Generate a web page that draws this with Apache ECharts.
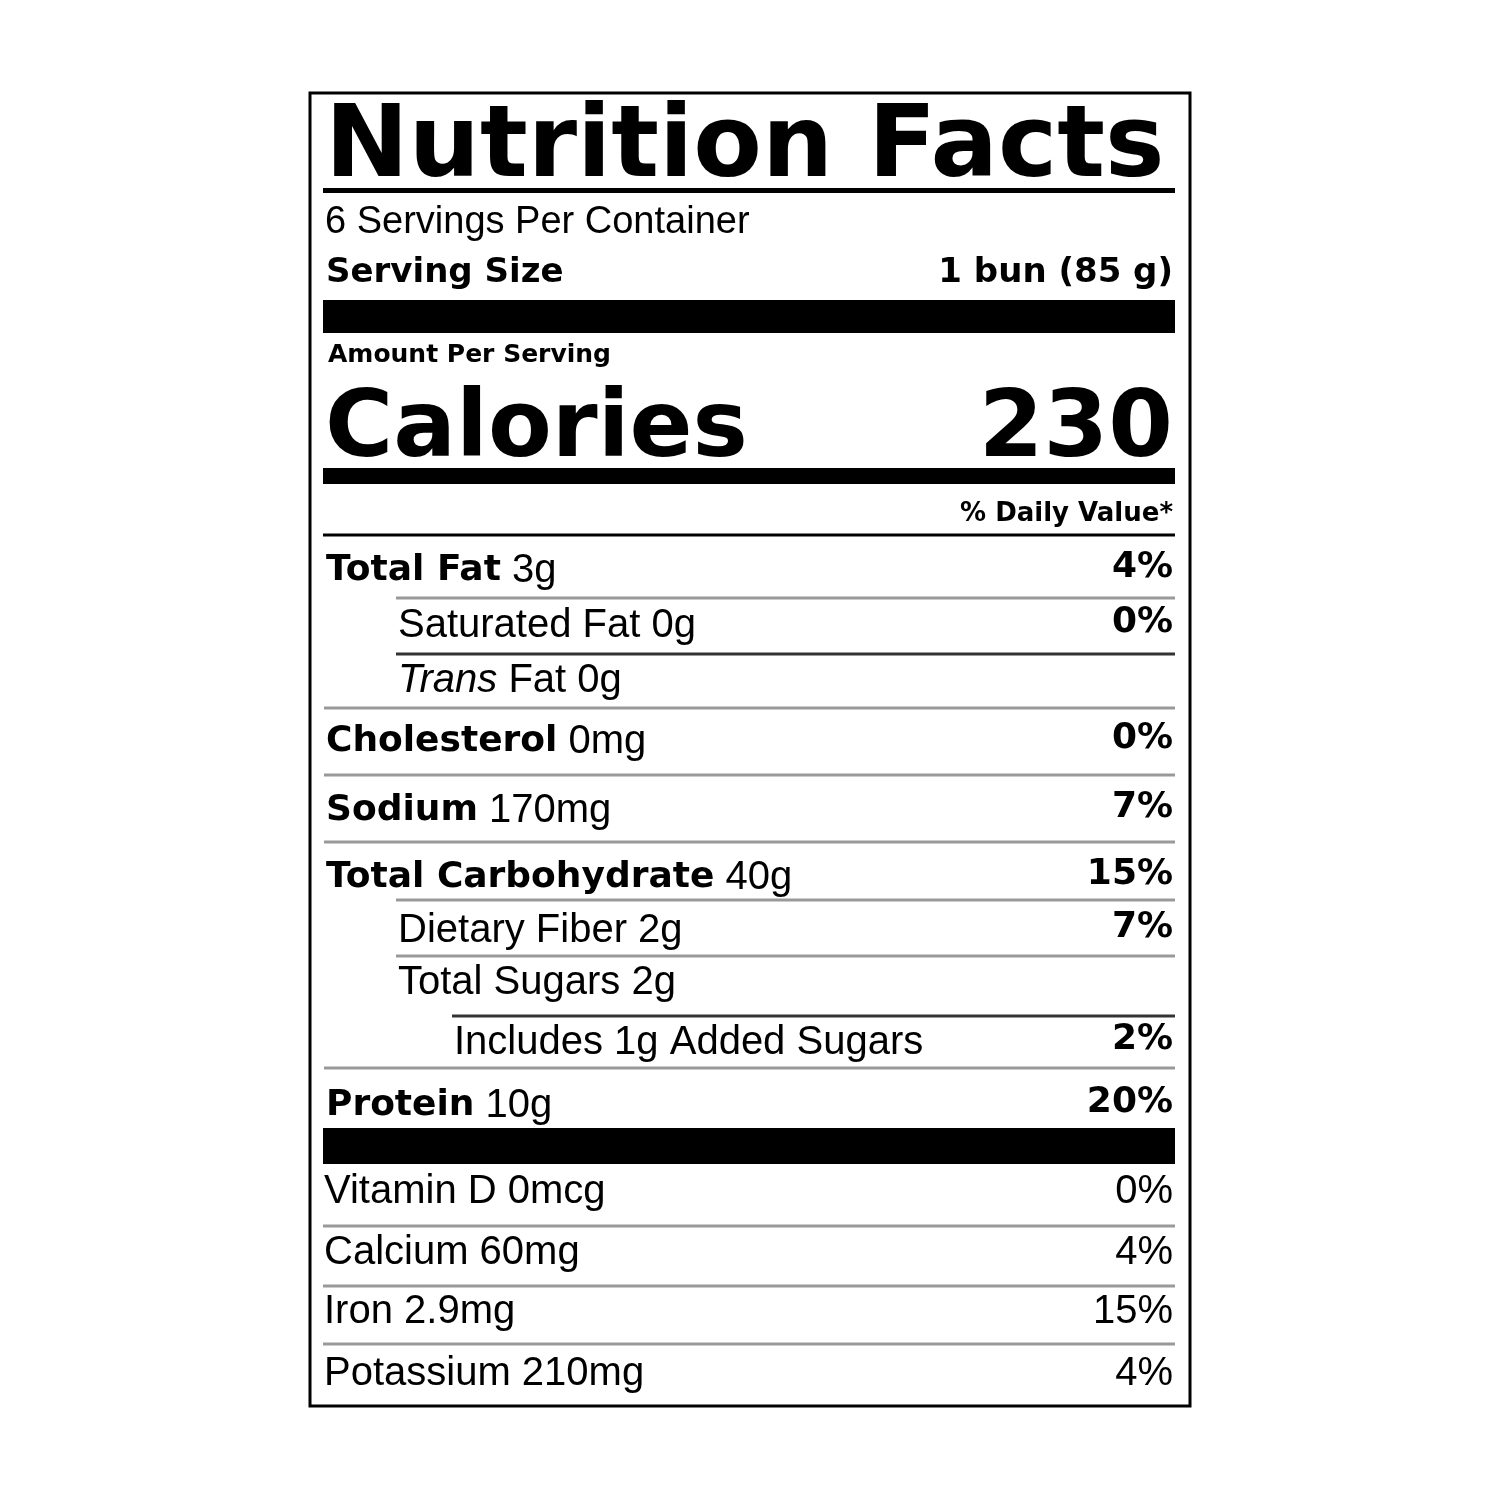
<!DOCTYPE html>
<html><head><meta charset="utf-8">
<script src="https://cdn.jsdelivr.net/npm/echarts@6/dist/echarts.min.js"></script>
<style>html,body{margin:0;background:#fff}#c{width:1500px;height:1500px}</style>
</head><body><div id="c"></div>
<script>
const title = "Nutrition Facts";
const servingsText = "6 Servings Per Container";
const servingLabel = "Serving Size";
const servingValue = "1 bun (85 g)";
const amountText = "Amount Per Serving";
const caloriesLabel = "Calories";
const caloriesValue = "230";
const dvHeader = "% Daily Value*";
// nutrient rows: bold name, amount, %DV, indent level
const nutrientNames = ["Total Fat","Saturated Fat","Trans Fat","Cholesterol","Sodium","Total Carbohydrate","Dietary Fiber","Total Sugars","Includes 1g Added Sugars","Protein"];
const nutrientAmounts = ["3g","0g","0g","0mg","170mg","40g","2g","2g","",""+"10g"];
const nutrientDV = ["4%","0%","","0%","7%","15%","7%","","2%","20%"];
const nutrientLevel = [0,1,1,0,0,0,1,1,2,0];
const vitaminNames = ["Vitamin D","Calcium","Iron","Potassium"];
const vitaminAmounts = ["0mcg","60mg","2.9mg","210mg"];
const vitaminDV = ["0%","4%","15%","4%"];

// layout
const L = 323, R = 1175;
const indentX = [L+3, 398, 454];
const nutBase = [582,637,692,753,822,889,942,994,1054,1117];
const nutLineAfter = [[598,1,'#999'],[654,1,'#333'],[708,0,'#999'],[775,0,'#999'],[842,0,'#999'],[900,1,'#999'],[956,1,'#999'],[1016,2,'#333'],[1068,0,'#999'],null];
const vitBase = [1203,1264,1323,1385];
const vitLine = [1226,1286,1344,null];

const REG = '"Liberation Sans", Arial, sans-serif';
const BOLD = '"DejaVu Sans", sans-serif';
const g = [];
g.push({type:'rect',shape:{x:310,y:93,width:880,height:1313},style:{fill:'#fff',stroke:'#000',lineWidth:3}});
function bar(y,h,x1){g.push({type:'rect',shape:{x:x1===undefined?L:x1,y:y,width:R-(x1===undefined?L:x1),height:h},style:{fill:'#000'}});}
function line(y,x1,color){g.push({type:'rect',shape:{x:x1,y:y-1.5,width:R-x1,height:3},style:{fill:color}});}
function txt(x,base,text,font,size,weight,align,rich){
  g.push({type:'text',x:x,y:base,style:{text:text,fontFamily:font,fontSize:size,fontWeight:weight,fill:'#000',align:align||'left',verticalAlign:'bottom',rich:rich}});
}
// text positioned with bottom; add descent offset
function T(x,base,text,font,size,weight,align,rich){txt(x,base+size*0.22,text,font,size,weight,align,rich);}

T(L+2,178,title,BOLD,100,'bold');
bar(188,5);
T(L+2,233,servingsText,REG,38,'normal');
T(L+3,283,servingLabel,BOLD,34,'bold');
T(R-2,283,servingValue,BOLD,34,'bold','right');
bar(300,33);
T(L+5,362,amountText,BOLD,25,'bold');
T(L+2,458,caloriesLabel,BOLD,93,'bold');
T(R-2,458,caloriesValue,BOLD,93,'bold','right');
bar(468,16);
T(R-2,522,dvHeader,BOLD,26,'bold','right');
line(535,L,'#000');

const rich = {
  b:{fontFamily:BOLD,fontWeight:'bold',fontSize:36,fill:'#000'},
  r:{fontFamily:REG,fontSize:40,fill:'#000'},
  i:{fontFamily:REG,fontStyle:'italic',fontSize:40,fill:'#000'}
};
nutrientNames.forEach((n,k)=>{
  const lvl = nutrientLevel[k];
  let s;
  if(lvl===0) s = '{b|'+n+'} {r|'+nutrientAmounts[k]+'}';
  else if(n==='Trans Fat') s = '{i|Trans} {r|Fat '+nutrientAmounts[k]+'}';
  else s = '{r|'+n+(nutrientAmounts[k]?' '+nutrientAmounts[k]:'')+'}';
  T(indentX[lvl],nutBase[k],s,REG,40,'normal','left',rich);
  if(nutrientDV[k]) T(R-2,nutBase[k]-4,nutrientDV[k],BOLD,36,'bold','right');
  const ln = nutLineAfter[k];
  if(ln) line(ln[0],indentX[ln[1]]-2,ln[2]);
});
bar(1128,36);
vitaminNames.forEach((n,k)=>{
  T(L+1,vitBase[k],n+' '+vitaminAmounts[k],REG,40,'normal');
  T(R-2,vitBase[k],vitaminDV[k],REG,40,'normal','right');
  if(vitLine[k]) line(vitLine[k],L,'#999');
});

const chart = echarts.init(document.getElementById('c'));
chart.setOption({backgroundColor:'#fff',graphic:g});
</script></body></html>
